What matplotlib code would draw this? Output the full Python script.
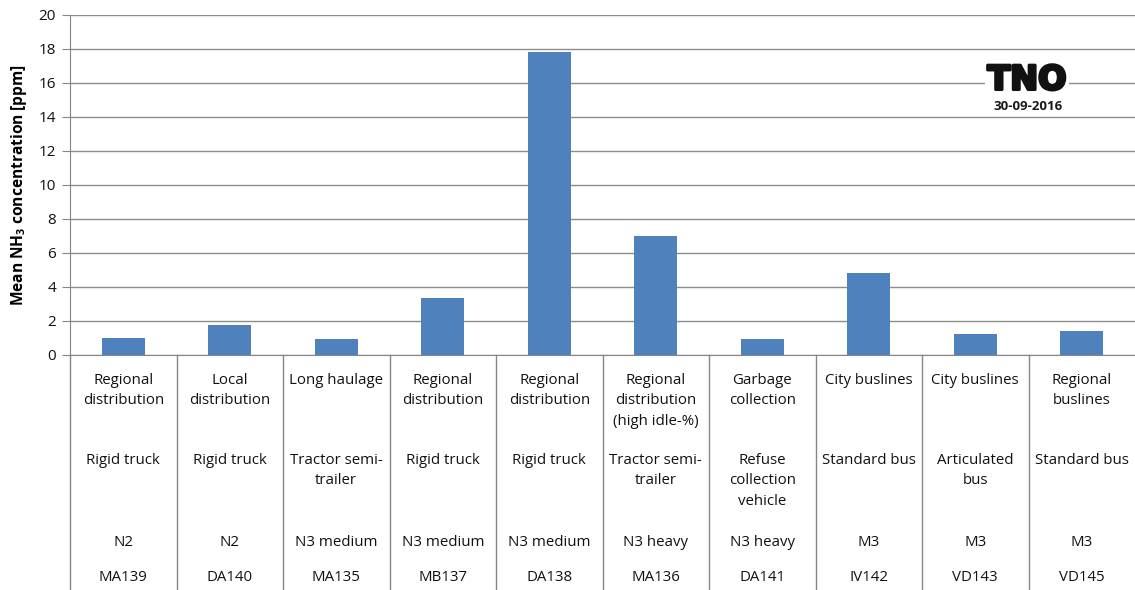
import matplotlib
matplotlib.use("Agg")
import matplotlib.pyplot as plt
import matplotlib.patheffects as pe
from matplotlib.transforms import blended_transform_factory

plt.rcParams["font.family"] = ["Open Sans", "DejaVu Sans"]

# --- data ---
applications = ["Regional\ndistribution", "Local\ndistribution", "Long haulage",
                "Regional\ndistribution", "Regional\ndistribution",
                "Regional\ndistribution\n(high idle-%)", "Garbage\ncollection",
                "City buslines", "City buslines", "Regional\nbuslines"]
vehicle_types = ["Rigid truck", "Rigid truck", "Tractor semi-\ntrailer", "Rigid truck",
                 "Rigid truck", "Tractor semi-\ntrailer", "Refuse\ncollection\nvehicle",
                 "Standard bus", "Articulated\nbus", "Standard bus"]
classes = ["N2", "N2", "N3 medium", "N3 medium", "N3 medium", "N3 heavy",
           "N3 heavy", "M3", "M3", "M3"]
vehicle_ids = ["MA139", "DA140", "MA135", "MB137", "DA138", "MA136",
               "DA141", "IV142", "VD143", "VD145"]
nh3_ppm = [1.0, 1.76, 0.95, 3.35, 17.82, 7.0, 0.94, 4.82, 1.24, 1.41]
y_ticks = list(range(0, 21, 2))

W, H = 1135, 590
fig = plt.figure(figsize=(W / 100, H / 100), dpi=100)
ax_left, ax_right, ax_top, ax_bot = 70, 1135, 15, 355
ax = fig.add_axes([ax_left / W, 1 - ax_bot / H, (ax_right - ax_left) / W, (ax_bot - ax_top) / H])

x = list(range(len(nh3_ppm)))
ax.bar(x, nh3_ppm, width=0.4, color="#4F81BD", zorder=3)
ax.set_xlim(-0.5, len(x) - 0.5)
ax.set_ylim(0, 20)
ax.set_yticks(y_ticks)
ax.tick_params(axis="y", length=6, color="#868686", labelsize=11, pad=4, labelcolor="#111111")
ax.set_xticks([])
ax.grid(axis="y", color="#8c8c8c", linewidth=1.0, zorder=0)
for s in ["top", "right"]:
    ax.spines[s].set_visible(False)
ax.spines["left"].set_color("#868686")
ax.spines["bottom"].set_color("#868686")
ax.set_ylabel("Mean NH$_\\mathregular{3}$ concentration [ppm]", fontsize=11.2,
              fontweight="bold", labelpad=7)

# --- multi-level category table under the axis ---
axh = ax_bot - ax_top
tr = blended_transform_factory(ax.transData, ax.transAxes)

def py(p):
    return -(p - ax_bot) / axh

for b in [i - 0.5 for i in range(len(x))]:
    ax.plot([b, b], [0, py(H)], transform=tr, color="#868686", lw=1.0, clip_on=False)

rows = [(applications, 373), (vehicle_types, 453), (classes, 535), (vehicle_ids, 570)]
for labels, top in rows:
    for i, lab in enumerate(labels):
        ax.text(i, py(top), lab, transform=tr, ha="center", va="top", fontsize=10.8,
                linespacing=1.5, color="#111111")

# --- logo ---
fig.text(1027 / W, 1 - 80 / H, "TNO", ha="center", va="center", fontsize=24,
         fontweight="heavy", family=["DejaVu Sans"], color="#111111",
         path_effects=[pe.withStroke(linewidth=2.2, foreground="#111111")],
         bbox=dict(facecolor="white", edgecolor="none", pad=2))
fig.text(1028 / W, 1 - 106 / H, "30-09-2016", ha="center", va="center", fontsize=9.5,
         fontweight="bold", color="#1a1a1a",
         bbox=dict(facecolor="white", edgecolor="none", pad=1))

fig.savefig("out.png", dpi=100)
